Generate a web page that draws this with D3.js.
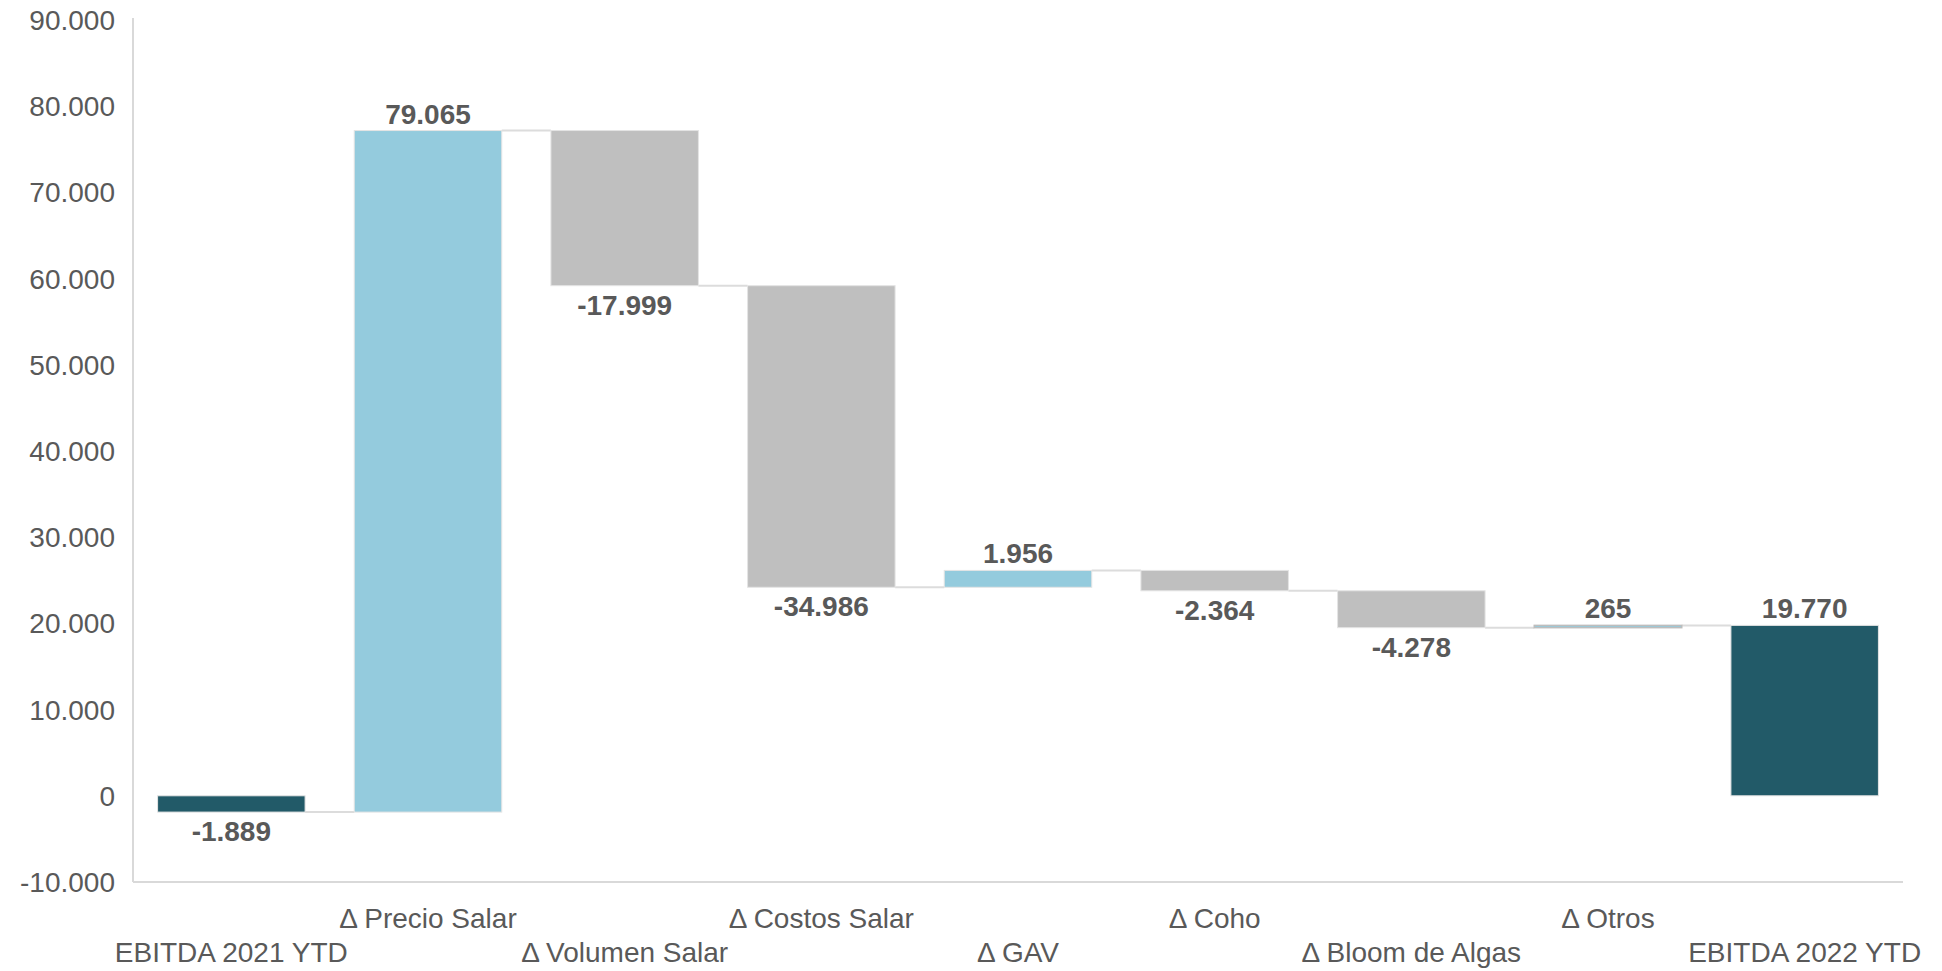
<!DOCTYPE html>
<html>
<head>
<meta charset="utf-8">
<script src="https://cdn.jsdelivr.net/npm/d3@7"></script>
<style>
  body { margin: 0; background: #fff; }
  svg text { font-family: "Liberation Sans", Arial, sans-serif; fill: #595959; }
</style>
</head>
<body>
<svg id="chart" width="1942" height="971"></svg>
<script>
  const categories = ["EBITDA 2021 YTD", "\u0394 Precio Salar", "\u0394 Volumen Salar", "\u0394 Costos Salar",
                      "\u0394 GAV", "\u0394 Coho", "\u0394 Bloom de Algas", "\u0394 Otros", "EBITDA 2022 YTD"];
  const values     = [-1889, 79065, -17999, -34986, 1956, -2364, -4278, 265, 19770];
  const kinds      = ["total", "delta", "delta", "delta", "delta", "delta", "delta", "delta", "total"];
  const yTicks     = [-10000, 0, 10000, 20000, 30000, 40000, 50000, 60000, 70000, 80000, 90000];

  const COLOR_TOTAL = "#225a68";
  const COLOR_UP    = "#94cbdd";
  const COLOR_DOWN  = "#bfbfbf";

  const fmt = d3.formatLocale({ decimal: ",", thousands: ".", grouping: [3], currency: ["", ""], minus: "-" }).format(",d");

  // running totals -> bar extents
  let running = 0;
  const bars = categories.map(function (c, i) {
    let start, end;
    if (kinds[i] === "total") {
      start = 0; end = values[i];
    } else {
      start = running; end = running + values[i];
    }
    running = end;
    return { name: c, value: values[i], kind: kinds[i], start: start, end: end, i: i };
  });

  const svg = d3.select("#chart");
  const left = 133, right = 1903;

  const x = d3.scaleBand().domain(categories).range([left, right]).paddingInner(0.25).paddingOuter(0.125);
  const y = d3.scaleLinear().domain([-10000, 90000]).range([882, 20]);

  // axes lines
  svg.append("line").attr("x1", left).attr("x2", left).attr("y1", y(90000) - 2).attr("y2", y(-10000))
    .attr("stroke", "#d9d9d9").attr("stroke-width", 2);
  svg.append("line").attr("x1", left).attr("x2", right).attr("y1", y(-10000)).attr("y2", y(-10000))
    .attr("stroke", "#d9d9d9").attr("stroke-width", 2);

  // y tick labels
  svg.append("g").selectAll("text").data(yTicks).join("text")
    .attr("x", 115).attr("y", d => y(d)).attr("dy", "0.36em")
    .attr("text-anchor", "end").style("font-size", "28px")
    .text(d => fmt(d));

  // connectors
  const conn = bars.slice(0, -1).map((b, i) => ({ level: b.end, x1: x(b.name) + x.bandwidth(), x2: x(categories[i + 1]) }));
  svg.append("g").selectAll("line").data(conn).join("line")
    .attr("x1", d => d.x1).attr("x2", d => d.x2)
    .attr("y1", d => y(d.level)).attr("y2", d => y(d.level))
    .attr("stroke", "#dcdcdc").attr("stroke-width", 2);

  // bars (very thin bars get a grey outline, like the source)
  svg.append("g").selectAll("rect").data(bars).join("rect")
    .attr("x", d => x(d.name)).attr("width", x.bandwidth())
    .attr("y", d => y(Math.max(d.start, d.end)))
    .attr("height", d => Math.max(1.5, Math.abs(y(d.start) - y(d.end))))
    .attr("fill", d => d.kind === "total" ? COLOR_TOTAL : (d.value >= 0 ? COLOR_UP : COLOR_DOWN))
    .attr("stroke", d => Math.abs(y(d.start) - y(d.end)) < 4 ? "#bdbdbd" : "#e4e4e4")
    .attr("stroke-width", d => Math.abs(y(d.start) - y(d.end)) < 4 ? 1.5 : 1);

  // value labels
  svg.append("g").selectAll("text").data(bars).join("text")
    .attr("x", d => x(d.name) + x.bandwidth() / 2)
    .attr("y", d => d.value >= 0 ? y(Math.max(d.start, d.end)) - 7 : y(Math.min(d.start, d.end)) + 29)
    .attr("text-anchor", "middle")
    .style("font-size", "28px").style("font-weight", "bold")
    .text(d => fmt(d.value));

  // category labels, staggered in two rows
  svg.append("g").selectAll("text").data(categories).join("text")
    .attr("x", d => x(d) + x.bandwidth() / 2)
    .attr("y", (d, i) => i % 2 === 1 ? 928 : 962)
    .attr("text-anchor", "middle")
    .style("font-size", "28px")
    .text(d => d);
</script>
</body>
</html>
